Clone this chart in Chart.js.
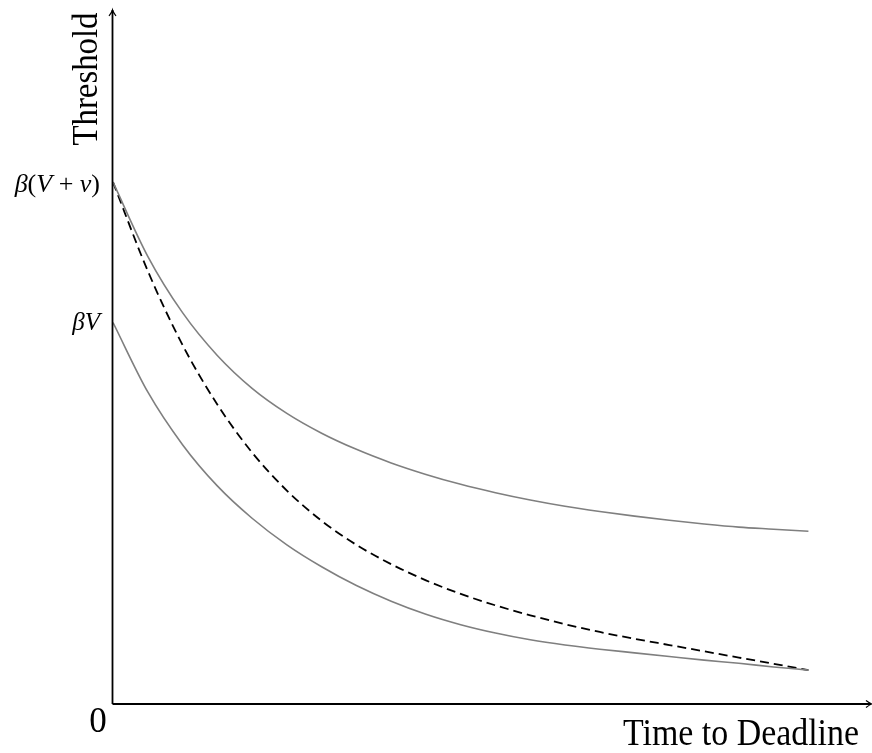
<!DOCTYPE html>
<html>
<head>
<meta charset="utf-8">
<script src="https://cdn.jsdelivr.net/npm/chart.js@4/dist/chart.umd.min.js"></script>
<style>
  html, body { margin: 0; padding: 0; background: #fff; }
  .chart-container { position: relative; width: 872px; height: 753px; }
</style>
</head>
<body>
<div class="chart-container"><canvas id="chart"></canvas></div>
<script>
// time to deadline (arbitrary units) and threshold values
const times = [0, 0.5, 1, 1.5, 2, 2.5, 3, 3.5, 4, 4.5, 5, 5.5, 6, 6.5, 7, 7.5, 8, 8.5, 9, 9.5, 10];
const upperBound = [10.0, 8.58, 7.50, 6.68, 6.05, 5.57, 5.19, 4.88, 4.62, 4.40, 4.21, 4.05, 3.91, 3.79, 3.69, 3.60, 3.52, 3.45, 3.39, 3.35, 3.31];
const lowerBound = [7.31, 5.98, 4.97, 4.18, 3.56, 3.05, 2.63, 2.27, 1.97, 1.72, 1.52, 1.36, 1.23, 1.13, 1.05, 0.98, 0.91, 0.84, 0.78, 0.71, 0.65];
const threshold = [10.0, 8.30, 6.88, 5.74, 4.82, 4.09, 3.51, 3.05, 2.68, 2.37, 2.11, 1.89, 1.70, 1.53, 1.38, 1.25, 1.13, 1.01, 0.89, 0.77, 0.65];

// y tick positions and their (math) labels
const yTickValues = [10.0, 7.31];
const yTickLabels = [
  [['β', 'i'], ['(', 'n'], ['V', 'i'], [' + ', 'n'], ['v', 'i'], [')', 'n']],
  [['β', 'i'], ['V', 'i']]
];
const xAxisTitle = 'Time to Deadline';
const yAxisTitle = 'Threshold';
const originLabel = '0';

const SERIF = '"Liberation Serif", "DejaVu Serif", serif';

const toPoints = (ys) => times.map((t, i) => ({ x: t, y: ys[i] }));

// draws text squeezed/stretched horizontally to a target width
function fitText(ctx, text, font, x, y, width, align) {
  ctx.save();
  ctx.font = font;
  const w = ctx.measureText(text).width;
  const sx = width / w;
  ctx.translate(x, y);
  ctx.scale(sx, 1);
  ctx.textAlign = align;
  ctx.textBaseline = 'alphabetic';
  ctx.fillText(text, 0, 0);
  ctx.restore();
}

function drawMath(ctx, parts, size, rightX, baseline) {
  ctx.save();
  ctx.textBaseline = 'alphabetic';
  ctx.textAlign = 'left';
  const fontFor = (s) => (s === 'i' ? 'italic ' : '') + size + 'px ' + SERIF;
  let total = 0;
  parts.forEach(([t, s]) => { ctx.font = fontFor(s); total += ctx.measureText(t).width; });
  let cx = rightX - total;
  parts.forEach(([t, s]) => {
    ctx.font = fontFor(s);
    ctx.fillText(t, cx, baseline);
    cx += ctx.measureText(t).width;
  });
  ctx.restore();
}

function arrowHead(ctx, x, y, dir) {
  // dir: 'up' or 'right', simple tikz-like open tip
  ctx.beginPath();
  if (dir === 'up') {
    ctx.moveTo(x - 3.5, y + 6);
    ctx.quadraticCurveTo(x - 0.5, y + 2, x, y);
    ctx.quadraticCurveTo(x + 0.5, y + 2, x + 3.5, y + 6);
  } else {
    ctx.moveTo(x - 6, y - 3.5);
    ctx.quadraticCurveTo(x - 2, y - 0.5, x, y);
    ctx.quadraticCurveTo(x - 2, y + 0.5, x - 6, y + 3.5);
  }
  ctx.stroke();
}

const axesPlugin = {
  id: 'axesPlugin',
  afterDraw(chart) {
    const { ctx, chartArea: { left, right, top, bottom }, scales: { y } } = chart;
    ctx.save();
    ctx.strokeStyle = '#000';
    ctx.fillStyle = '#000';
    ctx.lineWidth = 1.8;
    ctx.lineCap = 'butt';
    ctx.beginPath();
    ctx.moveTo(left - 0.5, bottom);
    ctx.lineTo(left - 0.5, top);
    ctx.moveTo(left - 0.5, bottom);
    ctx.lineTo(right, bottom);
    ctx.stroke();
    ctx.lineWidth = 1.2;
    arrowHead(ctx, left - 0.5, top, 'up');
    arrowHead(ctx, right + 1, bottom, 'right');

    // y tick labels
    const baseOffsets = [10, 7];
    const sizes = [26, 25];
    yTickValues.forEach((v, i) => {
      drawMath(ctx, yTickLabels[i], sizes[i], left - 13, y.getPixelForValue(v) + baseOffsets[i]);
    });

    // origin
    ctx.font = '35px ' + SERIF;
    ctx.textAlign = 'center';
    ctx.textBaseline = 'alphabetic';
    ctx.fillText(originLabel, left - 15, bottom + 28);

    // axis titles
    fitText(ctx, xAxisTitle, '37px ' + SERIF, 859, bottom + 41, 236, 'right');

    ctx.save();
    ctx.translate(left - 16, 79);
    ctx.rotate(-Math.PI / 2);
    fitText(ctx, yAxisTitle, '35px ' + SERIF, 0, 0, 133, 'center');
    ctx.restore();

    ctx.restore();
  }
};

new Chart(document.getElementById('chart').getContext('2d'), {
  type: 'line',
  data: {
    datasets: [{
      label: 'Upper bound',
      data: toPoints(upperBound),
      borderColor: '#7f7f7f',
      borderWidth: 1.6,
      cubicInterpolationMode: 'monotone',
      pointRadius: 0,
      fill: false
    }, {
      label: 'Lower bound',
      data: toPoints(lowerBound),
      borderColor: '#7f7f7f',
      borderWidth: 1.6,
      cubicInterpolationMode: 'monotone',
      pointRadius: 0,
      fill: false
    }, {
      label: 'Threshold',
      data: toPoints(threshold),
      borderColor: '#000',
      borderWidth: 1.8,
      borderDash: [9, 5],
      cubicInterpolationMode: 'monotone',
      pointRadius: 0,
      fill: false
    }]
  },
  options: {
    responsive: true,
    maintainAspectRatio: false,
    animation: false,
    layout: { padding: { left: 113, right: 1, top: 10, bottom: 49 } },
    plugins: { legend: { display: false }, tooltip: { enabled: false } },
    scales: {
      x: { type: 'linear', min: 0, max: 10.9, display: false },
      y: { type: 'linear', min: 0, max: 13.3, display: false }
    }
  },
  plugins: [axesPlugin]
});
</script>
</body>
</html>
